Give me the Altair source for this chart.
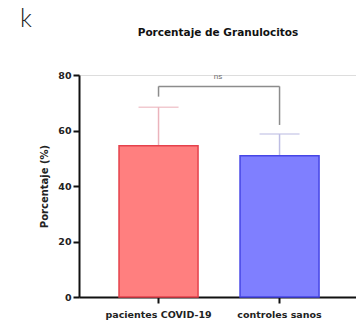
import altair as alt
import pandas as pd

# Group means and upper error values (%)
groups = ["pacientes COVID-19", "controles sanos"]
means = [54.5, 50.9]
upper = [68.4, 58.7]
bar_fill = ["#FF7F7F", "#7F7FFF"]
bar_stroke = ["#E5424C", "#4646E6"]
err_color = ["#EBB3BC", "#BDBDE3"]

# Significance bracket (y levels in %)
bracket_top = 75.9
bracket_left_bottom = 72.2
bracket_right_bottom = 62.0
ns_level = 79.3

FONT = "DejaVu Sans"

df = pd.DataFrame({"grupo": groups, "media": means, "sup": upper})

x_scale = alt.Scale(domain=groups, paddingInner=0.347, paddingOuter=0.318, align=0.52)
y_scale = alt.Scale(domain=[0, 80])

x_enc = alt.X("grupo:N", scale=x_scale, sort=groups, title=None,
              axis=alt.Axis(labelAngle=0, labelFont=FONT, labelFontWeight="bold",
                            labelFontSize=9.5, labelColor="#222", labelPadding=6,
                            domainColor="#111", domainWidth=2, tickColor="#111",
                            tickWidth=2, tickSize=6, grid=False))
y_enc = alt.Y("media:Q", scale=y_scale, title="Porcentaje (%)",
              axis=alt.Axis(values=[0, 20, 40, 60, 80], labelFont=FONT,
                            labelFontWeight="bold", labelFontSize=9.5, labelColor="#222",
                            labelPadding=2, domainColor="#111", domainWidth=2,
                            tickColor="#111", tickWidth=2, tickSize=6, grid=False,
                            titleFont=FONT, titleFontWeight="bold",
                            titleFontSize=10, titleColor="#222", titlePadding=8))

color_fill = alt.Color("grupo:N", scale=alt.Scale(domain=groups, range=bar_fill), legend=None)
color_stroke = alt.Stroke("grupo:N", scale=alt.Scale(domain=groups, range=bar_stroke), legend=None)
color_err = alt.Color("grupo:N", scale=alt.Scale(domain=groups, range=err_color), legend=None)

base = alt.Chart(df)

err_line = base.mark_rule(strokeWidth=1.5).encode(
    x=x_enc, y=alt.Y("media:Q", scale=y_scale), y2="sup:Q", color=color_err)
err_cap = base.mark_tick(size=40, thickness=1.5).encode(
    x=x_enc, y=alt.Y("sup:Q", scale=y_scale), color=color_err)

bars = base.mark_bar(strokeWidth=1.5).encode(
    x=x_enc, y=y_enc, fill=color_fill, stroke=color_stroke)

br_df = pd.DataFrame({
    "grupo": groups,
    "bottom": [bracket_left_bottom, bracket_right_bottom],
    "top": [bracket_top, bracket_top],
})
br_legs = alt.Chart(br_df).mark_rule(color="#8C8C8C", strokeWidth=1.5).encode(
    x=alt.X("grupo:N", scale=x_scale, sort=groups),
    y=alt.Y("bottom:Q", scale=y_scale), y2="top:Q")
br_top = alt.Chart(pd.DataFrame({"a": [groups[0]], "b": [groups[1]], "t": [bracket_top]})).mark_rule(
    color="#8C8C8C", strokeWidth=1.5).encode(
    x=alt.X("a:N", scale=x_scale, sort=groups), x2="b:N",
    y=alt.Y("t:Q", scale=y_scale))
ns = alt.Chart(pd.DataFrame({"label": ["ns"], "lvl": [ns_level]})).mark_text(
    font="Liberation Sans", fontSize=8, fill="#6E6E6E").encode(
    x=alt.value(139), y=alt.Y("lvl:Q", scale=y_scale), text="label:N")

# Chart heading and panel letter
heading = alt.Chart(pd.DataFrame({"t": ["Porcentaje de Granulocitos"]})).mark_text(
    font=FONT, fontWeight="bold", fontSize=10.5, fill="#111", baseline="middle").encode(
    x=alt.value(139), y=alt.value(-42), text="t:N")
panel = alt.Chart(pd.DataFrame({"t": ["k"]})).mark_text(
    font="Lato", fontWeight=300, fontSize=25, fill="#222", align="left", baseline="alphabetic").encode(
    x=alt.value(-59), y=alt.value(-48), text="t:N")

chart = alt.layer(err_line, err_cap, bars, br_legs, br_top, ns, heading, panel).properties(
    width=277, height=222,
    autosize=alt.AutoSizeParams(type="none"),
    padding={"left": 79, "top": 75, "right": 0, "bottom": 29},
).configure_view(stroke=None).configure(background="white")

chart.save("out.html", embed_options={"renderer": "svg", "actions": False})
